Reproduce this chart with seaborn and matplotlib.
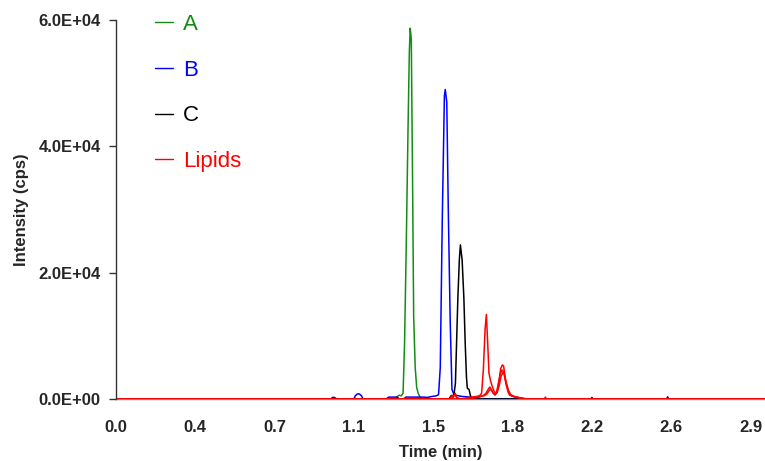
import numpy as np
import pandas as pd
import matplotlib
matplotlib.use("Agg")
import matplotlib.pyplot as plt
from matplotlib.ticker import FuncFormatter
import seaborn as sns

# ---------------- data ----------------
a_time = [0.0, 1.291, 1.300, 1.309, 1.318, 1.327, 1.334, 1.342, 1.350, 1.356, 1.360, 1.365, 1.371, 1.376, 1.383, 1.390, 1.397, 1.405, 1.414, 3.0]
a_int = [0, 0, 400, 600, 500, 900, 9000, 25000, 43000, 55000, 58700, 57000, 34000, 13000, 5000, 1800, 900, 300, 0, 0]

b_time = [0.0, 0.995, 1.000, 1.010, 1.020, 1.100, 1.106, 1.115, 1.125, 1.135, 1.142, 1.250, 1.260, 1.300, 1.310, 1.330, 1.340,
          1.420, 1.440, 1.460, 1.481, 1.491, 1.499, 1.508, 1.518, 1.522, 1.529, 1.536, 1.545, 1.553, 1.560, 1.569, 1.600, 1.638,
          1.660, 2.195, 2.200, 2.205, 2.545, 2.550, 2.555, 3.0]
b_int = [0, 0, 250, 250, 0, 0, 500, 800, 800, 500, 0, 0, 300, 300, 0, 0, 300,
         300, 250, 400, 500, 700, 5000, 28000, 48000, 49000, 47000, 30000, 12000, 1500, 900, 600, 400, 300,
         0, 0, 250, 0, 0, 350, 0, 0]

c_time = [0.0, 1.540, 1.548, 1.556, 1.563, 1.569, 1.580, 1.587, 1.592, 1.600, 1.608, 1.614, 1.620, 1.624, 1.632, 1.640, 1.648, 1.660, 3.0]
c_int = [0, 0, 500, 300, 900, 2500, 15700, 22000, 24400, 22000, 16000, 9000, 3500, 1700, 1500, 300, 200, 0, 0]

lipid1_time = [0.0, 1.545, 1.552, 1.560, 1.568, 1.575, 1.600, 1.640, 1.660, 1.680, 1.690, 1.698, 1.706, 1.712, 1.718, 1.724, 1.732,
               1.740, 1.748, 1.756, 1.764, 1.772, 1.778, 1.786, 1.792, 1.800, 1.808, 1.815, 1.830, 1.850, 1.880, 1.980, 1.985, 1.990, 3.0]
lipid1_int = [0, 0, 600, 300, 900, 200, 0, 0, 300, 500, 900, 4600, 11000, 13400, 9000, 4100, 2800,
              1900, 1200, 900, 1500, 3000, 4800, 5400, 5200, 3000, 1900, 900, 500, 300, 0, 0, 300, 0, 0]

lipid2_time = [0.0, 1.550, 1.558, 1.566, 1.580, 1.620, 1.680, 1.700, 1.710, 1.720, 1.728, 1.736, 1.744, 1.752, 1.760, 1.768,
               1.776, 1.784, 1.790, 1.796, 1.804, 1.812, 1.820, 1.835, 1.860, 1.900, 3.0]
lipid2_int = [0, 0, 400, 700, 0, 0, 300, 600, 900, 1500, 1900, 1400, 900, 600, 1200, 2600,
              4000, 4600, 4400, 3600, 2200, 1200, 600, 400, 200, 0, 0]

lipid3_time = [0.0, 1.600, 1.640, 1.700, 1.712, 1.722, 1.732, 1.742, 1.752, 1.762, 1.772, 1.780, 1.788, 1.796, 1.804,
               1.814, 1.824, 1.840, 1.870, 1.900, 3.0]
lipid3_int = [0, 0, 300, 500, 700, 1200, 1600, 1000, 700, 1000, 2200, 3600, 4200, 3900, 2600,
              1400, 700, 400, 200, 0, 0]

series_names = ["A", "B", "C", "Lipids"]
series_colors = ["#138c13", "#0000ff", "#000000", "#ff0000"]

x_tick_labels = ["0.0", "0.4", "0.7", "1.1", "1.5", "1.8", "2.2", "2.6", "2.9"]
y_ticks = [0, 20000, 40000, 60000]

# ---------------- figure ----------------
sns.set_style("white")
plt.rcParams["font.family"] = ["Liberation Sans", "DejaVu Sans"]

fig = plt.figure(figsize=(7.65, 4.61), dpi=100)
ax = fig.add_axes([116 / 765, 1 - 399 / 461, 1 - 116 / 765, (399 - 20) / 461])

traces = [
    ("A", a_time, a_int, series_colors[0], "A"),
    ("B", b_time, b_int, series_colors[1], "B"),
    ("C", c_time, c_int, series_colors[2], "C"),
    ("L1", lipid1_time, lipid1_int, series_colors[3], "Lipids"),
    ("L2", lipid2_time, lipid2_int, series_colors[3], None),
    ("L3", lipid3_time, lipid3_int, series_colors[3], None),
]
for key, t, y, col, lab in traces:
    df = pd.DataFrame({"time": t, "intensity": y})
    sns.lineplot(data=df, x="time", y="intensity", ax=ax, color=col, lw=1.1,
                 estimator=None, sort=False, label=lab if lab else "_nolegend_")

ax.set_xlim(0, 3.0)
ax.set_ylim(0, 60000)

step = 2.9333 / (len(x_tick_labels) - 1)
ax.set_xticks([i * step for i in range(len(x_tick_labels))])
ax.set_xticklabels(x_tick_labels)
ax.set_yticks(y_ticks)
ax.yaxis.set_major_formatter(FuncFormatter(lambda v, p: f"{v:.1E}"))

for lbl in ax.get_xticklabels() + ax.get_yticklabels():
    lbl.set_fontweight("bold")
    lbl.set_fontsize(12)

ax.tick_params(axis="x", length=0, pad=15)
ax.tick_params(axis="y", length=5, width=1, color="#333333", pad=6, left=True)

for s in ["top", "right"]:
    ax.spines[s].set_visible(False)
ax.spines["left"].set_color("#333333")
ax.spines["left"].set_linewidth(1.0)
ax.spines["bottom"].set_color("#888888")
ax.spines["bottom"].set_linewidth(1.0)
ax.spines["bottom"].set_zorder(0)

ax.set_xlabel("Time (min)", fontsize=12, fontweight="bold")
ax.set_ylabel("Intensity (cps)", fontsize=12, fontweight="bold")
ax.xaxis.set_label_coords(0.5, -0.122)
ax.yaxis.set_label_coords(-0.134, 0.5)

leg = ax.legend(loc="upper left", bbox_to_anchor=(155 / 765, 1 - 14 / 461),
                bbox_transform=fig.transFigure, frameon=False, fontsize=16,
                handlelength=0.8, handletextpad=0.45, labelspacing=1.11,
                borderpad=0, borderaxespad=0)
for txt, col in zip(leg.get_texts(), series_colors):
    txt.set_color(col)
for h in leg.get_lines():
    h.set_linewidth(1.0)

fig.savefig("out.png", dpi=100)
